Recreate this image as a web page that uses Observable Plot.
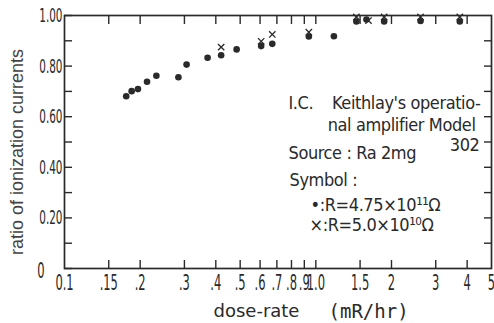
<!DOCTYPE html>
<html><head><meta charset="utf-8">
<script src="https://cdn.jsdelivr.net/npm/d3@7"></script>
<script src="https://cdn.jsdelivr.net/npm/@observablehq/plot@0.6"></script>
<style>
body{margin:0;background:#fff}
g.note text{letter-spacing:-0.4px}
</style>
</head><body><div id="chart"></div>
<script>
// R = 4.75e11 ohm (dots)
const doseDot  = [0.176,0.185,0.196,0.213,0.232,0.284,0.306,0.371,0.420,0.484,0.606,0.671,0.938,1.18,1.45,1.59,1.87,2.61,3.74];
const ratioDot = [0.681,0.701,0.709,0.738,0.762,0.756,0.806,0.833,0.843,0.866,0.879,0.888,0.917,0.918,0.976,0.984,0.976,0.978,0.976];
// R = 5.0e10 ohm (crosses)
const doseCross  = [0.420,0.606,0.671,0.938,1.45,1.62,1.87,2.61,3.74];
const ratioCross = [0.875,0.898,0.925,0.934,0.994,0.980,0.994,0.994,0.994];

const xTicks  = [0.1,0.15,0.2,0.3,0.4,0.5,0.6,0.7,0.8,0.9,1.0,1.5,2,3,4,5];
const xLabels = ["0.1",".15",".2",".3",".4",".5",".6",".7",".8",".9","1.0","1.5","2","3","4","5"];
const yTicks  = [0,0.1,0.2,0.3,0.4,0.5,0.6,0.7,0.8,0.9,1.0];
const yLabels = ["","","0.20","","0.40","","0.60","","0.80","","1.00"];
const zeroLabel = "0";

const noteLines = ["I.C.","Keithlay's operatio-","nal amplifier Model","302","Source : Ra 2mg","Symbol :","•:R=4.75×10¹¹Ω","×:R=5.0×10¹⁰Ω"];
const yTitle = "ratio of ionization currents";
const xTitleA = "dose-rate";
const xTitleB = "(mR/hr)";

const dots = doseDot.map((d,i)=>({dose:d, ratio:ratioDot[i]}));
const crosses = doseCross.map((d,i)=>({dose:d, ratio:ratioCross[i]}));

const ink = "#2a2a2a";
const cond = "'DejaVu Sans Condensed','DejaVu Sans',sans-serif";

function note(text, anchor, dx, dy, textAnchor) {
  return Plot.text([text], {text: d=>d, frameAnchor: anchor, dx, dy, textAnchor,
    lineAnchor: "bottom", fontFamily: cond, fontSize: 18, fill: ink, className: "note"});
}

const chart = Plot.plot({
  width: 494, height: 323,
  marginLeft: 64, marginTop: 15, marginRight: 3, marginBottom: 55,
  x: {type: "log", domain: [0.1, 5]},
  y: {domain: [0, 1]},
  style: {background: "#fff", color: ink},
  marks: [
    Plot.frame({stroke: ink, strokeWidth: 1.7}),
    Plot.axisX({anchor: "bottom", ticks: xTicks.slice(1,-1), tickSize: -8, strokeWidth: 1.4, tickFormat: ()=> "", label: null}),
    Plot.text(xTicks, {x: d=>d, text: (d,i)=>xLabels[i], frameAnchor: "bottom", lineAnchor: "top", dy: 6,
      fontFamily: cond, fontSize: 22, fill: ink, className: "xlab"}),
    Plot.axisX({anchor: "top", ticks: xTicks.slice(1,-1), tickSize: -8, strokeWidth: 1.4, tickFormat: ()=> "", label: null}),
    Plot.axisY({anchor: "left", ticks: yTicks, tickSize: -8, tickPadding: 10, strokeWidth: 1.4,
      tickFormat: (d,i)=>yLabels[i], fontFamily: cond, fontSize: 20, label: null}),
    Plot.axisY({anchor: "right", ticks: yTicks.slice(1,-1), tickSize: -8, strokeWidth: 1.4, tickFormat: ()=> "", label: null}),
    Plot.text([0], {y: d=>d, text: ()=>zeroLabel, frameAnchor: "left", textAnchor: "end", dx: -20, dy: 2,
      fontFamily: cond, fontSize: 22, fill: ink, className: "zero"}),
    Plot.dot(dots, {x: "dose", y: "ratio", r: 3.3, fill: ink, stroke: "none"}),
    Plot.dot(crosses, {x: "dose", y: "ratio", symbol: "times", r: 3, stroke: ink, strokeWidth: 1.3}),
    Plot.text([yTitle], {text: d=>d, frameAnchor: "left", textAnchor: "middle", rotate: -90, dx: -47, dy: 10,
      fontFamily: "'Liberation Sans',Arial,sans-serif", fontSize: 18, fill: "#444"}),
    Plot.text([xTitleA], {text: d=>d, frameAnchor: "bottom-left", dx: 149, dy: 48, lineAnchor: "bottom", textAnchor: "start",
      fontFamily: "'DejaVu Sans',sans-serif", fontSize: 18, fill: ink}),
    Plot.text([xTitleB], {text: d=>d, frameAnchor: "bottom-left", dx: 264, dy: 49, lineAnchor: "bottom", textAnchor: "start",
      fontFamily: "'DejaVu Sans Mono',monospace", fontSize: 19, fill: ink}),
    note(noteLines[0], "top-left", 224, 93, "start"),
    note(noteLines[1], "top-right", -11, 93, "end"),
    note(noteLines[2], "top-right", -16, 115, "end"),
    note(noteLines[3], "top-right", -12, 135, "end"),
    note(noteLines[4], "top-left", 224, 143, "start"),
    note(noteLines[5], "top-left", 225, 170, "start"),
    note(noteLines[6], "top-left", 246, 195, "start"),
    note(noteLines[7], "top-left", 245, 215, "start")
  ]
});
// condense the tick-label glyphs horizontally (lettering-template look)
const num = v => (v != null && v !== "" && !/em$/.test(v)) ? +v : null;
d3.select(chart).selectAll('g[aria-label$="tick label"] text, g.zero text, g.xlab text').each(function(){
  const t = d3.select(this);
  const tr = t.attr("transform") || "";
  const xn = num(t.attr("x")), yn = num(t.attr("y"));
  if (xn != null) t.attr("x", null);
  if (yn != null) t.attr("y", null);
  t.attr("transform", `${tr} translate(${xn || 0},${yn || 0}) scale(0.58,1)`);
});
document.getElementById("chart").appendChild(chart);
</script>
</body></html>
